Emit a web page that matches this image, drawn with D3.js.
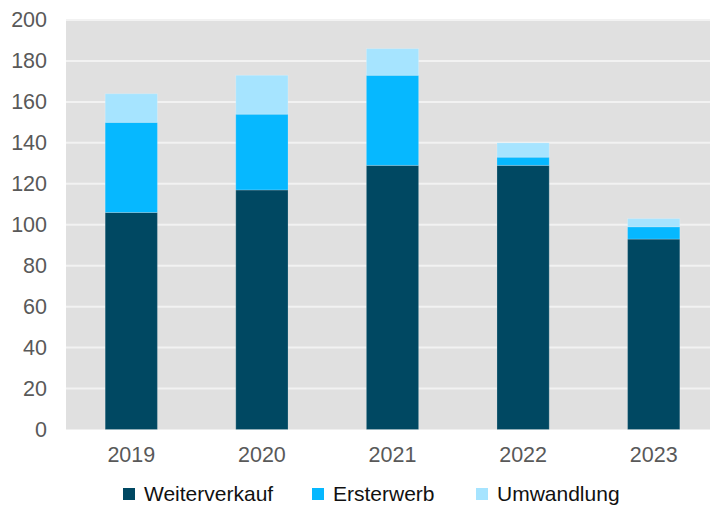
<!DOCTYPE html>
<html>
<head>
<meta charset="utf-8">
<script src="https://cdn.jsdelivr.net/npm/d3@7"></script>
<style>
  body { margin: 0; background: #fff; }
  svg { display: block; font-family: "Liberation Sans", Arial, sans-serif; }
</style>
</head>
<body>
<div id="chart"></div>
<script>
// data
var years = ["2019", "2020", "2021", "2022", "2023"];
var weiterverkauf = [106, 117, 129, 129, 93];
var ersterwerb = [44, 37, 44, 4, 6];
var umwandlung = [14, 19, 13, 7, 4];
var seriesNames = ["Weiterverkauf", "Ersterwerb", "Umwandlung"];
var yTicks = [0, 20, 40, 60, 80, 100, 120, 140, 160, 180, 200];

var colors = ["#004862", "#06b8ff", "#a6e4ff"];

var width = 710, height = 506;
var plot = {left: 66, right: 719, top: 20, bottom: 429.5};

var svg = d3.select("#chart").append("svg")
    .attr("width", width)
    .attr("height", height);

// build rows for the stack
var rows = years.map(function(y, i) {
  return {year: y, Weiterverkauf: weiterverkauf[i], Ersterwerb: ersterwerb[i], Umwandlung: umwandlung[i]};
});
var stacked = d3.stack().keys(seriesNames)(rows);

var x = d3.scaleBand().domain(years)
    .range([plot.left, plot.right])
    .paddingInner(0.6).paddingOuter(0.3);
var y = d3.scaleLinear().domain([0, 200]).range([plot.bottom, plot.top]);

// plot background
svg.append("rect")
    .attr("x", plot.left).attr("y", plot.top)
    .attr("width", plot.right - plot.left)
    .attr("height", plot.bottom - plot.top)
    .attr("fill", "#e0e0e0");

// gridlines
svg.append("g").selectAll("line")
    .data(yTicks.slice(1))
    .join("line")
    .attr("x1", plot.left).attr("x2", plot.right)
    .attr("y1", function(d) { return y(d); })
    .attr("y2", function(d) { return y(d); })
    .attr("stroke", "#f2f2f2")
    .attr("stroke-width", 2);

// bars
svg.append("g").selectAll("g")
    .data(stacked)
    .join("g")
    .attr("fill", function(d, i) { return colors[i]; })
    .selectAll("rect")
    .data(function(d) { return d; })
    .join("rect")
    .attr("x", function(d) { return x(d.data.year); })
    .attr("y", function(d) { return y(d[1]); })
    .attr("width", x.bandwidth())
    .attr("height", function(d) { return y(d[0]) - y(d[1]); })
    .attr("stroke", "rgba(255,255,255,0.2)")
    .attr("stroke-width", 1);

// y axis
var yAxis = svg.append("g")
    .attr("transform", "translate(" + plot.left + ",0)")
    .call(d3.axisLeft(y).tickValues(yTicks).tickSize(0).tickPadding(19));
yAxis.select(".domain").remove();
yAxis.selectAll("text")
    .attr("font-size", 21.5)
    .attr("font-family", "Liberation Sans, Arial, sans-serif")
    .attr("fill", "#595959");

// x axis
var xAxis = svg.append("g")
    .attr("transform", "translate(0," + plot.bottom + ")")
    .call(d3.axisBottom(x).tickSize(0).tickPadding(17));
xAxis.select(".domain").remove();
xAxis.selectAll("text")
    .attr("font-size", 21.5)
    .attr("font-family", "Liberation Sans, Arial, sans-serif")
    .attr("fill", "#595959");

// legend
var legendX = [123, 312, 476];
var legend = svg.append("g").selectAll("g")
    .data(seriesNames)
    .join("g")
    .attr("transform", function(d, i) { return "translate(" + legendX[i] + ",494)"; });
legend.append("rect")
    .attr("x", 0).attr("y", -6)
    .attr("width", 12).attr("height", 12)
    .attr("fill", function(d, i) { return colors[i]; });
legend.append("text")
    .attr("x", 21).attr("y", 7)
    .attr("font-size", 21)
    .attr("fill", "#111")
    .text(function(d) { return d; });
</script>
</body>
</html>
